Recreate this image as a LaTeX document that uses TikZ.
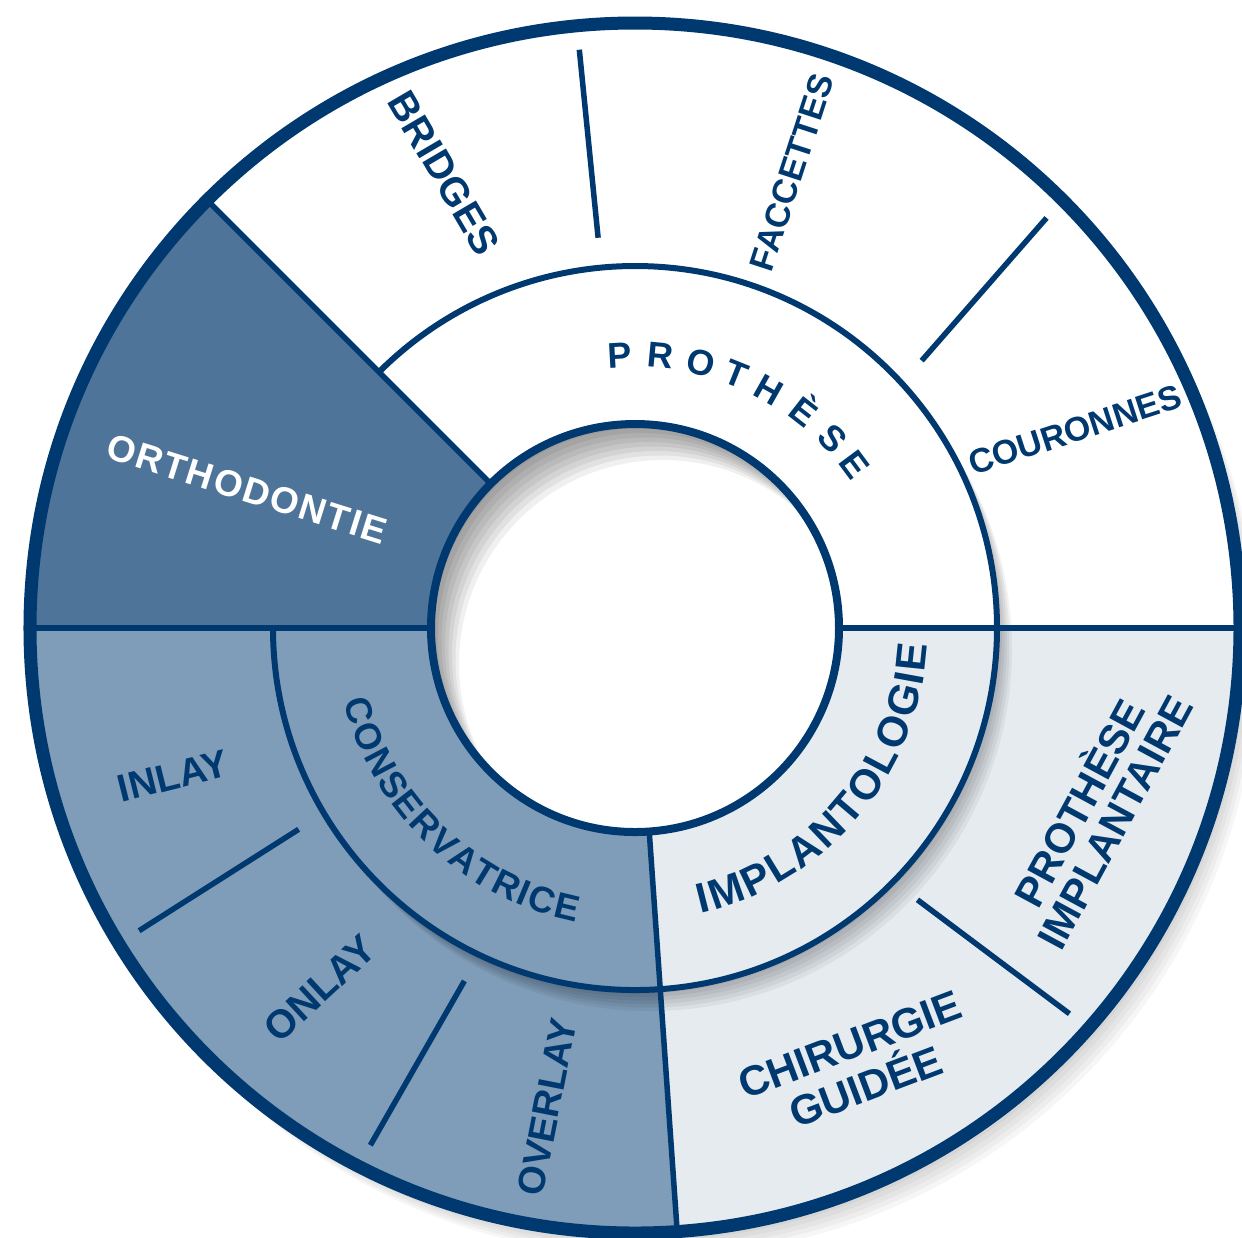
\documentclass[tikz,border=0pt]{standalone}
\usepackage{fontspec}
\setmainfont{Liberation Sans}
\usepackage[HTML]{xcolor}
\usepackage{tikz}
\usetikzlibrary{positioning, decorations.text}

\definecolor{navy}{HTML}{00396F}
\definecolor{orthoblue}{HTML}{4E7499}
\definecolor{consblue}{HTML}{7F9CB8}
\definecolor{implgrey}{HTML}{E6EBF0}

\newcommand{\rInner}{2.04}
\newcommand{\rMid}{3.62}
\newcommand{\rOuter}{6.05}

\begin{document}
\begin{tikzpicture}[
    divline/.style={navy, line width=0.055cm},
    lbl/.style={text=navy, inner sep=0pt, align=center, font=\bfseries\fontsize{#1}{#1}\selectfont},
    arclbl/.style={decorate, decoration={text along path, text color=navy, text align=fit to path, text={#1}}}
]
    \useasboundingbox (-6.35,-6.09) rectangle (6.07,6.28);

    % 1. Soft shadow under the disc
    \foreach \k in {1,...,6}
        \fill[black, opacity=0.035] (0.03*\k,-0.04*\k) circle (\rOuter);

    % 2. Outer ring sectors
    \foreach \a/\b/\c in {0/135/white, 135/180/orthoblue, 180/274/consblue, 274/360/implgrey}
        \fill[\c] (0,0) -- (\a:\rOuter) arc[start angle=\a, end angle=\b, radius=\rOuter] -- cycle;

    % 3. Shadow of the middle ring
    \foreach \k in {1,...,6}
        \fill[black, opacity=0.05] (0.025*\k,-0.035*\k) circle (\rMid);

    % 4. Middle ring sectors, then Orthodontie across both rings
    \foreach \a/\b/\c in {0/135/white, 180/274/consblue, 274/360/implgrey}
        \fill[\c] (0,0) -- (\a:\rMid) arc[start angle=\a, end angle=\b, radius=\rMid] -- cycle;
    \fill[orthoblue] (0,0) -- (135:\rOuter) arc[start angle=135, end angle=180, radius=\rOuter] -- cycle;

    % 5. Middle arc and main dividers
    \draw[navy, line width=0.06cm] (180:\rMid) arc[start angle=180, end angle=495, radius=\rMid];
    \foreach \a in {0,135,180,274}
        \draw[divline] (\a:\rInner) -- (\a:\rOuter);

    % 6. Short dividers in the outer ring
    \foreach \a/\b in {95.4/95.5, 43/44.9, 210.9/211.4, 244.2/242.9, -43.9/-41.6}
        \draw[divline] (\a:3.92) -- (\b:5.81);

    % 7. Hole in the middle, with its inner shadow
    \fill[white] (0,0) circle (\rInner);
    \begin{scope}
        \clip (0,0) circle (\rInner);
        \foreach \k in {1,...,8}
            \fill[black, opacity=0.06, even odd rule] (0,0) circle (\rInner) (0.035*\k,-0.045*\k) circle (\rInner);
    \end{scope}
    \draw[navy, line width=0.08cm] (0,0) circle (\rInner);

    % 8. Outer rim
    \draw[navy, line width=0.13cm] (0,0) circle (\rOuter);

    % 9. Ring labels
    \foreach \l/\a in {P/93.1, R/84.6, O/76.0, T/68.2, H/60.6, È/52.0, S/43.8, E/36.6}
        \node[lbl=10.2pt, anchor=base, rotate=\a-90] (pro\l) at (\a:2.61) {\l};
    \path[arclbl={|\bfseries\fontsize{10.4pt}{10.4pt}\selectfont|CONSERVATRICE}]
        (194.1:3.0) arc[start angle=194.1, end angle=258.7, radius=3.0];
    \path[arclbl={|\bfseries\fontsize{12pt}{12pt}\selectfont|IMPLANTOLOGIE}]
        (-77:2.93) arc[start angle=-77, end angle=-3.2, radius=2.93];

    % 10. Outer labels
    \node[lbl=11.3pt, rotate=-59.6] (bridges) at (-1.91,4.55) {BRIDGES};
    \node[lbl=9.8pt, rotate=72] (facettes) at (1.57,4.56) {FACCETTES};
    \node[lbl=9.7pt, rotate=18] (couronnes) at (4.40,1.98) {COURONNES};
    \node[lbl=10.5pt, text=white, rotate=-17.4, font=\bfseries\fontsize{10.5pt}{10.5pt}\selectfont\addfontfeature{LetterSpace=5}] (ortho) at (-3.88,1.39) {ORTHODONTIE};
    \node[lbl=11pt, rotate=14] (inlay) at (-4.62,-1.48) {INLAY};
    \node[lbl=11.3pt, rotate=42.8] (onlay) at (-3.15,-3.60) {ONLAY};
    \node[lbl=10.8pt, rotate=78.9] (overlay) at (-0.88,-4.79) {OVERLAY};
    \node[lbl=11.9pt, rotate=20.7] (chirurgie) at (2.23,-4.38) {CHIRURGIE\\[0.9pt]GUIDÉE};
    \node[lbl=11.8pt, rotate=61.6] (protimpl) at (4.59,-1.83) {PROTHÈSE\\[-0.4pt]IMPLANTAIRE};
\end{tikzpicture}
\end{document}
